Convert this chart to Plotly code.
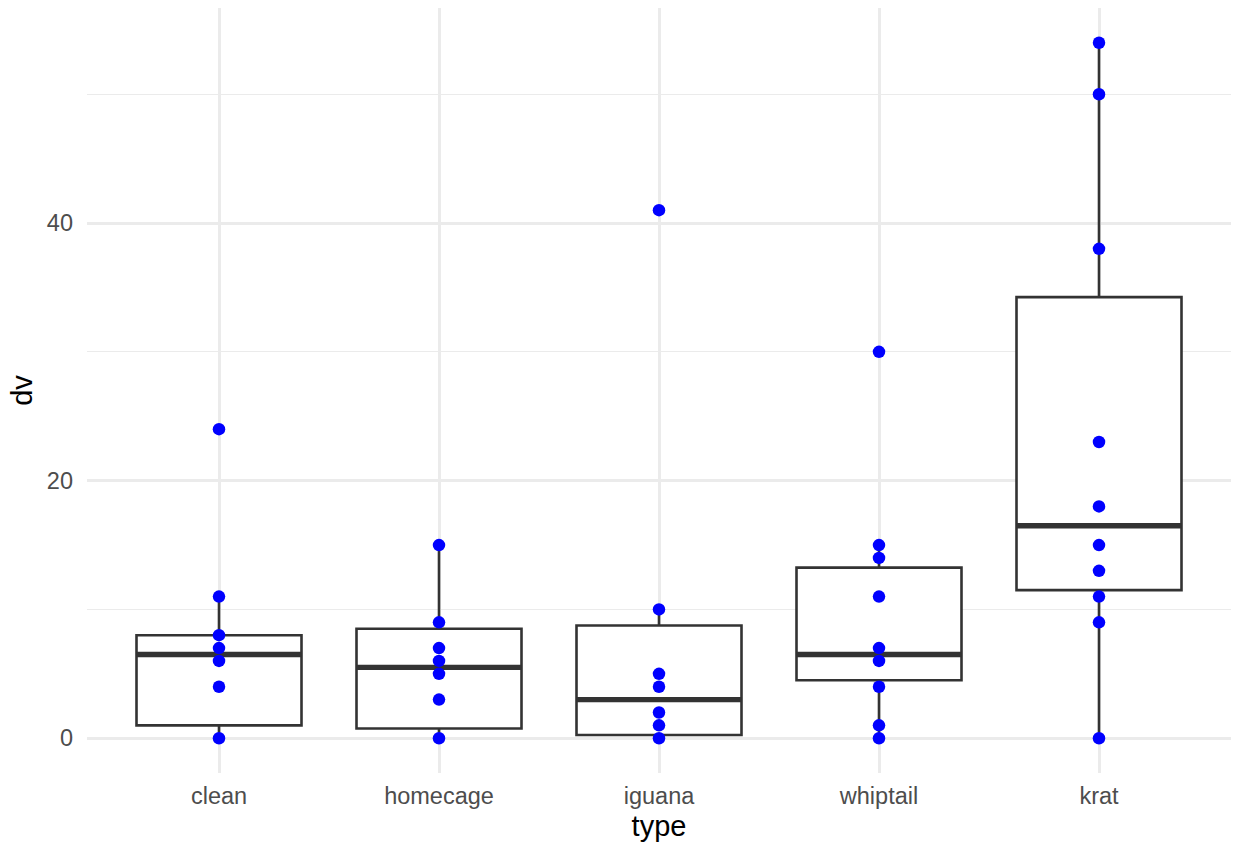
import plotly.graph_objects as go

categories = ["clean", "homecage", "iguana", "whiptail", "krat"]

clean_vals = [24, 11, 8, 7, 6, 4, 0]
homecage_vals = [15, 9, 7, 6, 5, 3, 0]
iguana_vals = [41, 10, 5, 4, 2, 1, 0]
whiptail_vals = [30, 15, 14, 11, 7, 6, 4, 1, 0]
krat_vals = [54, 50, 38, 23, 18, 15, 13, 11, 9, 0]

# box statistics
q1 = [1.0, 0.75, 0.25, 4.5, 11.5]
median = [6.5, 5.5, 3.0, 6.5, 16.5]
q3 = [8.0, 8.5, 8.75, 13.25, 34.25]
lower = [0, 0, 0, 0, 0]
upper = [11, 15, 10, 15, 54]

y_ticks = [0, 20, 40]
y_minor = [10, 30, 50]

BOX_W = 0.75
LINE_C = "#333333"
pos = list(range(len(categories)))

fig = go.Figure()

fig.add_trace(go.Box(
    x=pos, q1=q1, median=median, q3=q3, lowerfence=lower, upperfence=upper,
    width=BOX_W, whiskerwidth=0, boxpoints=False,
    line=dict(color=LINE_C, width=2.6), fillcolor="rgba(255,255,255,1)",
    showlegend=False, hoverinfo="skip",
))

mx, my = [], []
for i, m in zip(pos, median):
    mx += [i - BOX_W / 2, i + BOX_W / 2, None]
    my += [m, m, None]
fig.add_trace(go.Scatter(x=mx, y=my, mode="lines",
                         line=dict(color=LINE_C, width=5.4),
                         showlegend=False, hoverinfo="skip"))

all_vals = [clean_vals, homecage_vals, iguana_vals, whiptail_vals, krat_vals]
px, py = [], []
for i, vals in zip(pos, all_vals):
    px += [i] * len(vals)
    py += vals
fig.add_trace(go.Scatter(x=px, y=py, mode="markers",
                         marker=dict(color="#0000FF", size=12.5, line=dict(width=0)),
                         showlegend=False))

fig.update_layout(
    width=1235, height=847,
    margin=dict(l=87, r=4, t=8, b=74, autoexpand=False),
    paper_bgcolor="white", plot_bgcolor="white",
    font=dict(family="Liberation Sans, Arial, sans-serif"),
    xaxis=dict(
        range=[-0.6, 4.6], tickmode="array", tickvals=pos, ticktext=categories,
        showgrid=True, gridcolor="#EBEBEB", gridwidth=2.8, zeroline=False,
        showline=False, ticks="", ticklabelstandoff=6,
        tickfont=dict(size=23.5, color="#4D4D4D"),
        title=dict(text="type", font=dict(size=29, color="black"), standoff=8),
        automargin=False,
    ),
    yaxis=dict(
        range=[-2.7, 56.7], tickmode="array", tickvals=y_ticks,
        showgrid=True, gridcolor="#EBEBEB", gridwidth=2.8, zeroline=False,
        showline=False, ticks="", ticklabelstandoff=13,
        tickfont=dict(size=23.5, color="#4D4D4D"),
        minor=dict(tickvals=y_minor, showgrid=True, gridcolor="#EBEBEB", gridwidth=1.4, ticks=""),
        title=dict(text="dv", font=dict(size=29, color="black"), standoff=5),
        automargin=False,
    ),
)

fig.write_html("out.html")
